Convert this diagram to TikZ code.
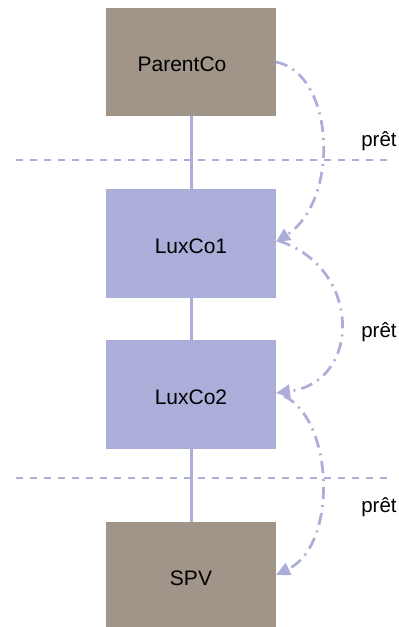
\documentclass[tikz,border=0pt]{standalone}
\usepackage{fontspec}
\setmainfont{Liberation Sans}
\usetikzlibrary{arrows.meta}
\definecolor{entbrown}{HTML}{A19589}
\definecolor{entlav}{HTML}{ABAED9}
\tikzset{
  x=1pt, y=-1pt,
  entity/.style={rectangle, minimum width=170pt, minimum height=108.5pt, inner sep=0pt,
                 text height=19pt, text depth=0pt,
                 font=\fontsize{21}{24}\selectfont},
  holding/.style={entity, fill=entbrown},
  luxbox/.style={entity, fill=entlav},
  chain/.style={draw=entlav, line width=3pt},
  border/.style={draw=entlav, line width=1.6pt, dash pattern=on 7pt off 7pt},
  loan/.style={draw=entlav, line width=2.7pt, dash pattern=on 12pt off 6pt on 2pt off 6pt,
               -{Triangle[length=14pt,width=13pt]}},
  loanlbl/.style={font=\fontsize{20.5}{24}\selectfont, anchor=base}
}
\begin{document}
\begin{tikzpicture}
\useasboundingbox (0,0) rectangle (399,627);
\begin{scope}
\clip (0,0) rectangle (399,627);
% entities
\node[holding] (parent) at (191,62) {\hspace*{-18pt}ParentCo};
\node[luxbox]  (lux1)   at (191,243.5) {LuxCo1};
\node[luxbox]  (lux2)   at (191,394.5) {LuxCo2};
\node[holding] (spv)    at (191,576) {SPV};
\end{scope}
% ownership chain
\draw[chain] (parent.south) -- (lux1.north);
\draw[chain] (lux1.south) -- (lux2.north);
\draw[chain] (lux2.south) -- (spv.north);
% border lines
\coordinate (b1l) at (16,160);
\coordinate (b1r) at (389,160);
\coordinate (b2l) at (16,478);
\coordinate (b2r) at (389,478);
\draw[border] (b1l) -- (b1r);
\draw[border] (b2l) -- (b2r);
% loans
\coordinate (s1) at (276,62);
\coordinate (e1) at (276,242);
\coordinate (s2) at (279,241);
\coordinate (e2) at (276,393);
\coordinate (s3) at (284,396);
\coordinate (e3) at (276,575);
\draw[loan] (s1) .. controls (335,74) and (340,200) .. (e1);
\draw[loan] (s2) .. controls (362,268) and (362,382) .. (e2);
\draw[loan] (s3) .. controls (334,420) and (338,545) .. (e3);
% loan labels
\node[loanlbl] (l1) at (379,146) {prêt};
\node[loanlbl] (l2) at (379,337) {prêt};
\node[loanlbl] (l3) at (379,512) {prêt};
\end{tikzpicture}
\end{document}
